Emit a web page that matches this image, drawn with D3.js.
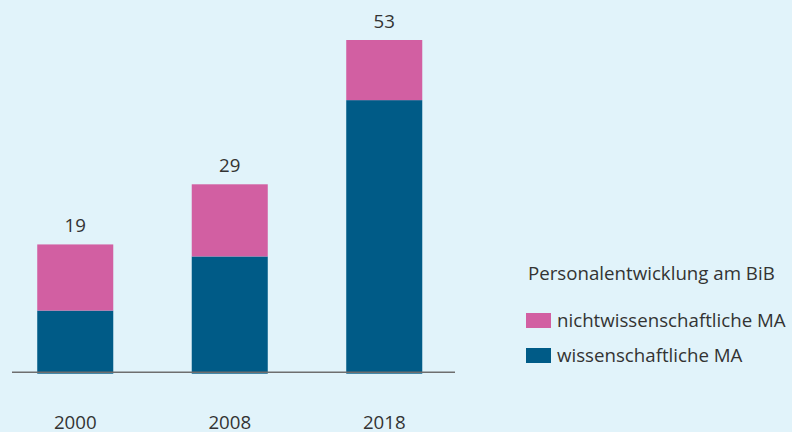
<!DOCTYPE html>
<html>
<head>
<meta charset="utf-8">
<script src="https://cdn.jsdelivr.net/npm/d3@7"></script>
<style>
  body { margin: 0; background: #e1f3fa; }
  svg { display: block; font-family: "Open Sans", sans-serif; }
</style>
</head>
<body>
<svg id="chart" width="792" height="432"></svg>
<script>
// Personalentwicklung am BiB
var years = ["2000", "2008", "2018"];
var wissenschaftlich = [8, 17, 43];
var nichtwissenschaftlich = [11, 12, 10];
var totals = [19, 29, 53];
var seriesNames = ["wissenschaftliche MA", "nichtwissenschaftliche MA"];
var legendTitle = "Personalentwicklung am BiB";

var colorScale = d3.scaleOrdinal()
  .domain(seriesNames)
  .range(["#005b87", "#d25fa2"]);

var svg = d3.select("#chart");
var baseY = 373.7;
var fontSize = "18.7px";

var rows = years.map(function (yr, i) {
  return {
    year: yr,
    "wissenschaftliche MA": wissenschaftlich[i],
    "nichtwissenschaftliche MA": nichtwissenschaftlich[i],
    total: totals[i]
  };
});

var stacked = d3.stack().keys(seriesNames)(rows);

var x = d3.scaleBand()
  .domain(years)
  .range([-2, 461.5])
  .paddingInner(0.508)
  .paddingOuter(0.254);

var y = d3.scaleLinear()
  .domain([-2.5, 53])
  .range([baseY, 40]);

svg.append("g")
  .selectAll("g")
  .data(stacked)
  .join("g")
  .attr("fill", function (s) { return colorScale(s.key); })
  .selectAll("rect")
  .data(function (s) { return s; })
  .join("rect")
  .attr("x", function (d) { return x(d.data.year); })
  .attr("width", x.bandwidth())
  .attr("y", function (d) { return y(d[1]); })
  .attr("height", function (d) {
    var bottom = d[0] === 0 ? baseY : y(d[0]);
    return bottom - y(d[1]);
  });

// baseline
svg.append("line")
  .attr("x1", 12)
  .attr("x2", 455)
  .attr("y1", 372.3)
  .attr("y2", 372.3)
  .attr("stroke", "#6e6e6e")
  .attr("stroke-width", 1.5);

// totals
svg.append("g")
  .selectAll("text")
  .data(rows)
  .join("text")
  .attr("x", function (d) { return x(d.year) + x.bandwidth() / 2; })
  .attr("y", function (d) { return y(d.total) - 12; })
  .attr("text-anchor", "middle")
  .attr("fill", "#333")
  .style("font-size", fontSize)
  .text(function (d) { return d.total; });

// year labels
svg.append("g")
  .selectAll("text")
  .data(years)
  .join("text")
  .attr("x", function (d) { return x(d) + x.bandwidth() / 2; })
  .attr("y", 429)
  .attr("text-anchor", "middle")
  .attr("fill", "#333")
  .style("font-size", fontSize)
  .text(function (d) { return d; });

// legend
var legend = svg.append("g").attr("transform", "translate(526, 0)");

legend.append("text")
  .attr("x", 2)
  .attr("y", 280)
  .attr("fill", "#333")
  .style("font-size", fontSize)
  .text(legendTitle);

var legendItems = legend.selectAll(".item")
  .data(seriesNames.slice().reverse())
  .join("g")
  .attr("class", "item")
  .attr("transform", function (d, i) { return "translate(0," + (313 + i * 35) + ")"; });

legendItems.append("rect")
  .attr("width", 25)
  .attr("height", 15)
  .attr("fill", function (d) { return colorScale(d); });

legendItems.append("text")
  .attr("x", 31)
  .attr("y", 14)
  .attr("fill", "#333")
  .style("font-size", fontSize)
  .text(function (d) { return d; });
</script>
</body>
</html>
